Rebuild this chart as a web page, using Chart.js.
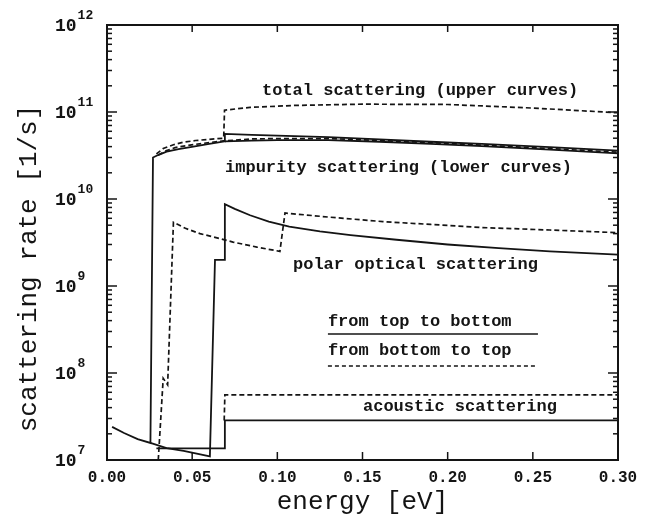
<!DOCTYPE html>
<html>
<head>
<meta charset="utf-8">
<script src="https://cdn.jsdelivr.net/npm/chart.js@4.4.1/dist/chart.umd.min.js"></script>
<style>
  html, body { margin: 0; padding: 0; background: #fff; }
  canvas { display: block; }
</style>
</head>
<body>
<canvas id="rates" width="653" height="516"></canvas>
<script>
// Scattering rates (1/s) versus energy (eV).
// "Down" series: energy swept from top to bottom (solid lines).
// "Up" series: energy swept from bottom to top (dashed lines).

const totalDownE    = [0.003, 0.010, 0.018, 0.0255, 0.0270, 0.030, 0.035, 0.042, 0.0507, 0.060, 0.0690, 0.0692, 0.085, 0.10, 0.13, 0.16, 0.19, 0.22, 0.26, 0.30];
const totalDownRate = [2.4e7, 2.04e7, 1.74e7, 1.57e7, 3.0e10, 3.2e10, 3.5e10, 3.75e10, 4.0e10, 4.3e10, 4.6e10, 5.6e10, 5.45e10, 5.35e10, 5.15e10, 4.85e10, 4.55e10, 4.3e10, 3.95e10, 3.6e10];

const totalUpE    = [0.029, 0.033, 0.039, 0.045, 0.052, 0.060, 0.0685, 0.0690, 0.084, 0.11, 0.15, 0.20, 0.25, 0.30];
const totalUpRate = [3.3e10, 3.8e10, 4.2e10, 4.5e10, 4.7e10, 4.85e10, 5.0e10, 1.05e11, 1.13e11, 1.19e11, 1.23e11, 1.22e11, 1.11e11, 9.8e10];

const impurityDownE    = [0.0692, 0.085, 0.10, 0.13, 0.16, 0.19, 0.22, 0.26, 0.30];
const impurityDownRate = [4.6e10, 4.7e10, 4.75e10, 4.75e10, 4.55e10, 4.3e10, 4.05e10, 3.7e10, 3.35e10];

const impurityUpE    = [0.030, 0.035, 0.040, 0.045, 0.052, 0.060, 0.0685, 0.085, 0.10, 0.13, 0.16, 0.19, 0.22, 0.26, 0.30];
const impurityUpRate = [3.2e10, 3.6e10, 3.9e10, 4.05e10, 4.25e10, 4.45e10, 4.65e10, 4.9e10, 4.95e10, 4.95e10, 4.7e10, 4.45e10, 4.15e10, 3.8e10, 3.45e10];

const polarDownE    = [0.0255, 0.035, 0.045, 0.0604, 0.0634, 0.0688, 0.0692, 0.075, 0.084, 0.095, 0.107, 0.125, 0.143, 0.17, 0.20, 0.23, 0.26, 0.30];
const polarDownRate = [1.57e7, 1.37e7, 1.27e7, 1.1e7, 2.0e9, 2.0e9, 8.7e9, 7.7e9, 6.5e9, 5.5e9, 4.8e9, 4.25e9, 3.85e9, 3.4e9, 3.0e9, 2.72e9, 2.5e9, 2.3e9];

const polarUpE    = [0.0301, 0.0330, 0.0356, 0.0390, 0.046, 0.0546, 0.064, 0.074, 0.088, 0.1015, 0.1045, 0.13, 0.162, 0.19, 0.22, 0.26, 0.30];
const polarUpRate = [1.0e7, 8.7e7, 7.3e7, 5.4e9, 4.6e9, 4.0e9, 3.6e9, 3.2e9, 2.8e9, 2.5e9, 6.9e9, 6.2e9, 5.5e9, 5.1e9, 4.7e9, 4.4e9, 4.1e9];

const acousticDownE    = [0.029, 0.0688, 0.0692, 0.30];
const acousticDownRate = [1.36e7, 1.36e7, 2.85e7, 2.85e7];

const acousticUpE    = [0.0688, 0.0692, 0.30];
const acousticUpRate = [2.85e7, 5.6e7, 5.6e7];

// Axis ticks
const xTickValues = [0.00, 0.05, 0.10, 0.15, 0.20, 0.25, 0.30];
const xTickLabels = ['0.00', '0.05', '0.10', '0.15', '0.20', '0.25', '0.30'];
const yTickExponents = [7, 8, 9, 10, 11, 12];

const INK = '#141414';
const MONO = '"Liberation Mono", "DejaVu Sans Mono", monospace';

function zip(es, rs) { return es.map((e, i) => ({ x: e, y: rs[i] })); }

function series(label, es, rs, dashed) {
  return {
    label,
    data: zip(es, rs),
    borderColor: INK,
    borderWidth: dashed ? 1.7 : 1.8,
    borderDash: dashed ? [5, 3] : [],
    pointRadius: 0,
    fill: false,
    tension: 0,
  };
}

// Text placed on the plot, anchored in data coordinates (energy, log10 rate).
const annotations = [
  { text: 'total scattering (upper curves)',    e: 0.0910, lg: 11.24 },
  { text: 'impurity scattering (lower curves)', e: 0.0693, lg: 10.356 },
  { text: 'polar optical scattering',           e: 0.1092, lg: 9.241 },
  { text: 'from top to bottom',                 e: 0.1297, lg: 8.586 },
  { text: 'from bottom to top',                 e: 0.1297, lg: 8.253 },
  { text: 'acoustic scattering',                e: 0.1503, lg: 7.609 },
];
const keyLines = [
  { e0: 0.1297, e1: 0.2530, lg: 8.448, dash: [] },
  { e0: 0.1297, e1: 0.2530, lg: 8.080, dash: [4, 3] },
];

const paperAxes = {
  id: 'paperAxes',
  afterDraw(chart) {
    const { ctx, chartArea: a, scales: { x, y } } = chart;
    const seg = (x0, y0, x1, y1) => { ctx.beginPath(); ctx.moveTo(x0, y0); ctx.lineTo(x1, y1); ctx.stroke(); };
    ctx.save();
    ctx.strokeStyle = INK;
    ctx.fillStyle = INK;

    // frame
    ctx.lineWidth = 2;
    ctx.strokeRect(a.left, a.top, a.right - a.left, a.bottom - a.top);

    // x ticks, pointing inward on both bottom and top
    ctx.lineWidth = 1.5;
    xTickValues.forEach(v => {
      const px = x.getPixelForValue(v);
      seg(px, a.bottom, px, a.bottom - 8);
      seg(px, a.top, px, a.top + 7);
    });

    // y ticks: decades long, intermediate short, on left and right
    const lastEx = yTickExponents[yTickExponents.length - 1];
    for (let ex = yTickExponents[0]; ex <= lastEx; ex++) {
      for (let m = 1; m <= 9; m++) {
        if (ex === lastEx && m > 1) break;
        const py = y.getPixelForValue(m * Math.pow(10, ex));
        const len = m === 1 ? 10 : 5;
        seg(a.left, py, a.left + len, py);
        seg(a.right, py, a.right - len, py);
      }
    }

    // x tick labels
    ctx.font = 'bold 16px ' + MONO;
    ctx.textAlign = 'center';
    ctx.textBaseline = 'middle';
    xTickValues.forEach((v, i) => ctx.fillText(xTickLabels[i], x.getPixelForValue(v), a.bottom + 18));

    // y tick labels as 10 with a raised exponent
    ctx.textAlign = 'left';
    yTickExponents.forEach(ex => {
      const py = y.getPixelForValue(Math.pow(10, ex));
      ctx.font = 'bold 18px ' + MONO;
      ctx.fillText('10', 55, py + 1);
      const w = ctx.measureText('10').width;
      ctx.font = 'bold 13px ' + MONO;
      ctx.fillText(String(ex), 55 + w + 1, py - 9);
    });

    // axis titles
    ctx.font = '26px ' + MONO;
    ctx.textAlign = 'center';
    ctx.fillText('energy [eV]', (a.left + a.right) / 2, a.bottom + 42);
    ctx.save();
    ctx.translate(29, (a.top + a.bottom) / 2 + 26);
    ctx.rotate(-Math.PI / 2);
    ctx.fillText('scattering rate [1/s]', 0, 0);
    ctx.restore();

    // curve annotations
    ctx.font = 'bold 17px ' + MONO;
    ctx.textAlign = 'left';
    annotations.forEach(t => ctx.fillText(t.text, x.getPixelForValue(t.e), y.getPixelForValue(Math.pow(10, t.lg))));

    // line-style key
    ctx.lineWidth = 1.6;
    keyLines.forEach(k => {
      ctx.setLineDash(k.dash);
      const py = y.getPixelForValue(Math.pow(10, k.lg));
      seg(x.getPixelForValue(k.e0), py, x.getPixelForValue(k.e1), py);
    });
    ctx.setLineDash([]);
    ctx.restore();
  }
};

new Chart(document.getElementById('rates'), {
  type: 'line',
  data: {
    datasets: [
      series('total, top to bottom', totalDownE, totalDownRate, false),
      series('total, bottom to top', totalUpE, totalUpRate, true),
      series('impurity, top to bottom', impurityDownE, impurityDownRate, false),
      series('impurity, bottom to top', impurityUpE, impurityUpRate, true),
      series('polar optical, top to bottom', polarDownE, polarDownRate, false),
      series('polar optical, bottom to top', polarUpE, polarUpRate, true),
      series('acoustic, top to bottom', acousticDownE, acousticDownRate, false),
      series('acoustic, bottom to top', acousticUpE, acousticUpRate, true),
    ]
  },
  options: {
    responsive: false,
    animation: false,
    devicePixelRatio: 1,
    layout: { padding: { left: 107, right: 35, top: 25, bottom: 56 } },
    plugins: { legend: { display: false }, tooltip: { enabled: false } },
    scales: {
      x: { type: 'linear', min: 0, max: 0.3, display: false },
      y: { type: 'logarithmic', min: 1e7, max: 1e12, display: false },
    },
  },
  plugins: [paperAxes],
});
</script>
</body>
</html>
